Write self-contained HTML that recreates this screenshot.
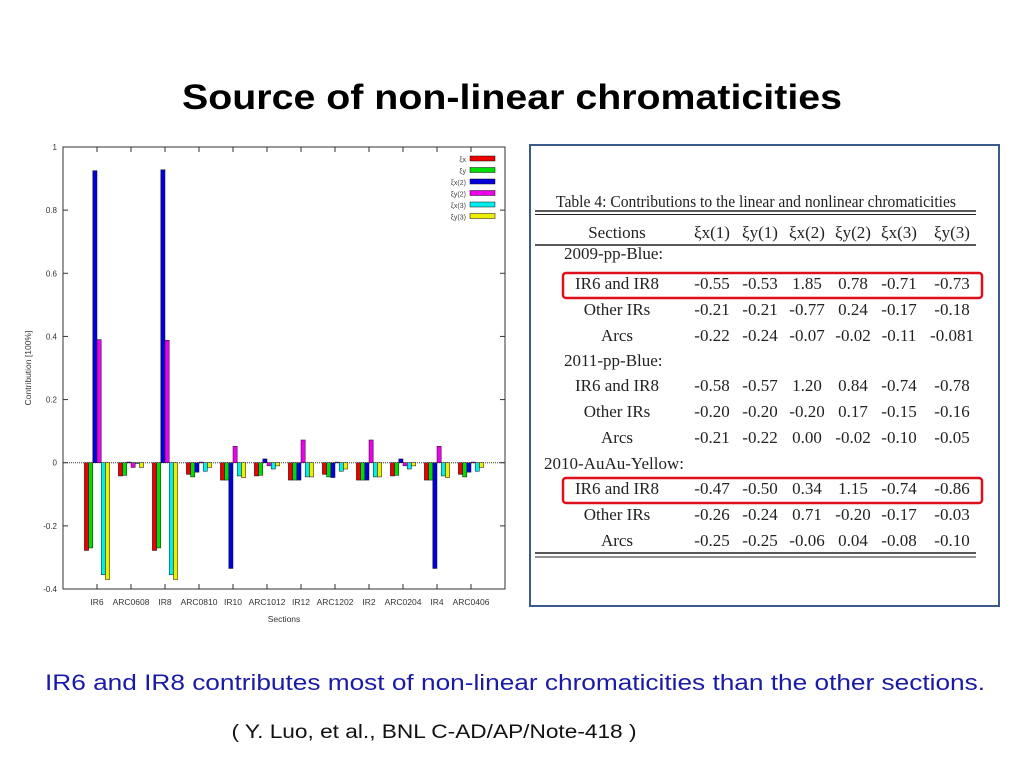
<!DOCTYPE html>
<html><head><meta charset="utf-8"><style>
html,body{margin:0;padding:0;background:#fff;}
svg{display:block;font-family:"Liberation Sans",sans-serif;}
.tb{font-family:"Liberation Serif",serif;font-size:17px;fill:#222;}
</style></head><body>
<svg id="root" width="1024" height="768" viewBox="0 0 1024 768">
<text x="512" y="109" text-anchor="middle" font-size="35" font-weight="bold" textLength="660" lengthAdjust="spacingAndGlyphs">Source of non-linear chromaticities</text>
<g id="chart"></g>
<g>
<rect x="530" y="145" width="469" height="461" fill="#fff" stroke="#3b5b8c" stroke-width="2"/>
<text class="tb" x="556" y="207" textLength="400" lengthAdjust="spacingAndGlyphs">Table 4: Contributions to the linear and nonlinear chromaticities</text>
<line x1="535" y1="211" x2="976" y2="211" stroke="#222" stroke-width="1.5"/>
<line x1="535" y1="214.5" x2="976" y2="214.5" stroke="#222" stroke-width="1"/>
<line x1="535" y1="245" x2="976" y2="245" stroke="#222" stroke-width="1.5"/>
<line x1="535" y1="553" x2="976" y2="553" stroke="#222" stroke-width="1.5"/>
<line x1="535" y1="557" x2="976" y2="557" stroke="#222" stroke-width="1"/>
<g id="tbl"></g>
<rect x="563" y="273" width="419" height="25" rx="3" fill="none" stroke="#e0101a" stroke-width="2.5"/>
<rect x="563" y="478" width="419" height="25" rx="3" fill="none" stroke="#e0101a" stroke-width="2.5"/>
</g>
<text x="515" y="690" text-anchor="middle" font-size="22" fill="#1a1aa8" textLength="940" lengthAdjust="spacingAndGlyphs">IR6 and IR8 contributes most of non-linear chromaticities than the other sections.</text>
<text x="434" y="738" text-anchor="middle" font-size="19" fill="#111" textLength="405" lengthAdjust="spacingAndGlyphs">( Y. Luo, et al., BNL C-AD/AP/Note-418 )</text>
</svg>
<script>
const categories=["IR6","ARC0608","IR8","ARC0810","IR10","ARC1012","IR12","ARC1202","IR2","ARC0204","IR4","ARC0406"];
const xiX1=[-0.278,-0.042,-0.278,-0.037,-0.055,-0.042,-0.055,-0.037,-0.055,-0.042,-0.055,-0.037];
const xiY1=[-0.27,-0.04,-0.27,-0.045,-0.055,-0.04,-0.055,-0.045,-0.055,-0.04,-0.055,-0.045];
const xiX2=[0.925,0.002,0.928,-0.03,-0.335,0.012,-0.055,-0.047,-0.055,0.012,-0.335,-0.03];
const xiY2=[0.39,-0.015,0.388,0.002,0.052,-0.01,0.072,0.002,0.072,-0.01,0.052,0.002];
const xiX3=[-0.355,-0.003,-0.355,-0.027,-0.042,-0.02,-0.045,-0.027,-0.045,-0.02,-0.042,-0.027];
const xiY3=[-0.37,-0.015,-0.37,-0.015,-0.047,-0.01,-0.045,-0.02,-0.045,-0.01,-0.047,-0.015];
const seriesNames=["xi-x-1","xi-y-1","xi-x-2","xi-y-2","xi-x-3","xi-y-3"];
const seriesLabels=["ξx","ξy","ξx(2)","ξy(2)","ξx(3)","ξy(3)"];
const yTicks=[-0.4,-0.2,0,0.2,0.4,0.6,0.8,1];
const yTickLabels=["-0.4","-0.2","0","0.2","0.4","0.6","0.8","1"];
const NS="http://www.w3.org/2000/svg";
const colors=["#ee0000","#00dd00","#0000dd","#ee00ee","#00eeee","#eeee00"];
const series=[xiX1,xiY1,xiX2,xiY2,xiX3,xiY3];
const L=63,R=505,T=147,B=589;
function y(v){return B-(v-(-0.4))/(1.4)*(B-T);}
function x(i){return L+(i+1)*(R-L)/(categories.length+1);}
function mk(tag,attrs,parent){const e=document.createElementNS(NS,tag);for(const k in attrs)e.setAttribute(k,attrs[k]);parent.appendChild(e);return e;}
const g=document.getElementById('chart');
const frame=mk('rect',{x:L,y:T,width:R-L,height:B-T,fill:'none',stroke:'#333','stroke-width':1},g);


yTicks.forEach((t,k)=>{
  const yy=y(t);
  const tl=mk('line',{x1:L,y1:yy,x2:L+5,y2:yy,stroke:'#333'},g);
  
  
  mk('line',{x1:R-5,y1:yy,x2:R,y2:yy,stroke:'#333'},g);
  const tx=mk('text',{x:L-6,y:yy+3,'text-anchor':'end','font-size':8,fill:'#333'},g);
  tx.textContent=yTickLabels[k];
  
  
});
const zl=mk('line',{x1:L,y1:y(0),x2:R,y2:y(0),stroke:'#333','stroke-dasharray':'1,1'},g);


const bw=4.2;
categories.forEach((c,i)=>{
  const cx=x(i);
  mk('line',{x1:cx,y1:B,x2:cx,y2:B-5,stroke:'#333'},g);
  mk('line',{x1:cx,y1:T,x2:cx,y2:T+5,stroke:'#333'},g);
  series.forEach((s,j)=>{
    const v=s[i];const x0=cx+(j-3)*bw;
    const y0=Math.min(y(v),y(0)),h=Math.max(Math.abs(y(v)-y(0)),0.8);
    const r=mk('rect',{x:x0,y:y0,width:bw,height:h,fill:colors[j],stroke:'#111','stroke-width':0.5},g);
    
    
  });
  const t=mk('text',{x:cx,y:B+16,'text-anchor':'middle','font-size':8.5,fill:'#333'},g);
  t.textContent=c;
  
  
});
const xt=mk('text',{x:(L+R)/2,y:622,'text-anchor':'middle','font-size':8.5,fill:'#333'},g);
xt.textContent='Sections';


const yt=mk('text',{x:0,y:0,'text-anchor':'middle','font-size':8.5,fill:'#333',transform:'translate(31,368) rotate(-90)'},g);
yt.textContent='Contribution [100%]';


seriesLabels.forEach((lab,j)=>{
  const yy=156+j*11.5;
  const sw=mk('rect',{x:470,y:yy,width:25,height:5,fill:colors[j],stroke:'#111','stroke-width':0.5},g);
  
  
  const lt=mk('text',{x:466,y:yy+6,'text-anchor':'end','font-size':7,fill:'#444'},g);
  lt.textContent=lab;
  
  
});
// table
const tbl=document.getElementById('tbl');
const colX=[617,712,760,807,853,899,952];
const hdr=["Sections","ξx(1)","ξy(1)","ξx(2)","ξy(2)","ξx(3)","ξy(3)"];
hdr.forEach((h,k)=>{
  const t=mk('text',{x:colX[k],y:238,'text-anchor':'middle',class:'tb'},tbl);
  t.textContent=h;
  
  
});
const rows=[
 ["g","2009-pp-Blue:",259],
 ["r","IR6 and IR8",289,["-0.55","-0.53","1.85","0.78","-0.71","-0.73"]],
 ["r","Other IRs",315,["-0.21","-0.21","-0.77","0.24","-0.17","-0.18"]],
 ["r","Arcs",341,["-0.22","-0.24","-0.07","-0.02","-0.11","-0.081"]],
 ["g","2011-pp-Blue:",366],
 ["r","IR6 and IR8",391,["-0.58","-0.57","1.20","0.84","-0.74","-0.78"]],
 ["r","Other IRs",417,["-0.20","-0.20","-0.20","0.17","-0.15","-0.16"]],
 ["r","Arcs",443,["-0.21","-0.22","0.00","-0.02","-0.10","-0.05"]],
 ["g","2010-AuAu-Yellow:",469],
 ["r","IR6 and IR8",494,["-0.47","-0.50","0.34","1.15","-0.74","-0.86"]],
 ["r","Other IRs",520,["-0.26","-0.24","0.71","-0.20","-0.17","-0.03"]],
 ["r","Arcs",546,["-0.25","-0.25","-0.06","0.04","-0.08","-0.10"]]
];
rows.forEach(r=>{
  if(r[0]==="g"){
    const t=mk('text',{x:r[1].startsWith('2010')?544:564,y:r[2],class:'tb'},tbl);
    t.textContent=r[1];
    
    
  } else {
    const t=mk('text',{x:colX[0],y:r[2],'text-anchor':'middle',class:'tb'},tbl);
    t.textContent=r[1];
    
    
    r[3].forEach((v,k)=>{
      const c=mk('text',{x:colX[k+1],y:r[2],'text-anchor':'middle',class:'tb'},tbl);
      c.textContent=v;
      
      
    });
  }
});
</script>
</body></html>
